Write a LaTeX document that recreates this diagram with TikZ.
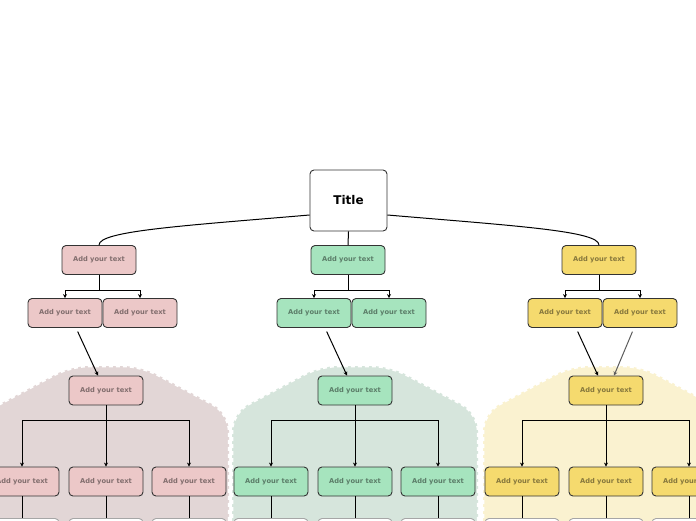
\documentclass[tikz,border=0pt]{standalone}
\usepackage{fontspec}
\setmainfont{DejaVu Sans}
\usetikzlibrary{arrows.meta}
\definecolor{rosecard}{RGB}{236,200,200}
\definecolor{rosebg}{RGB}{226,214,214}
\definecolor{mintcard}{RGB}{166,228,190}
\definecolor{mintbg}{RGB}{214,229,220}
\definecolor{sandcard}{RGB}{245,218,110}
\definecolor{sandbg}{RGB}{250,242,208}
\definecolor{edgegray}{RGB}{51,51,51}

\begin{document}
\begin{tikzpicture}[x=1pt, y=-1pt, >={Stealth[length=4pt,width=4pt]},
  card/.style={draw=edgegray, line width=0.9pt, rounded corners=4pt,
    minimum width=74pt, minimum height=29pt, inner sep=0pt,
    font=\fontsize{6.7}{8}\selectfont\bfseries, text opacity=0.45},
  ghost/.style={draw=gray!70, line width=0.9pt, rounded corners=4pt, fill=white,
    minimum width=74pt, minimum height=29pt},
  link/.style={line width=1pt}]
  \useasboundingbox (0,0) rectangle (696,520);
  \clip (0,0) rectangle (696,520);
  % ================================================================== backdrops
  \foreach \cx/\bg in {106/rosebg, 355/mintbg, 606/sandbg}
    \path[fill=\bg, draw=white, line width=2.5pt, dash pattern=on 4pt off 3pt, rounded corners=18pt]
      (\cx-123,560) -- (\cx-123,413) -- (\cx-35,366) -- (\cx+35,366) -- (\cx+123,413) -- (\cx+123,560);
  % ================================================================== title
  \node[draw=edgegray, line width=0.9pt, rounded corners=4pt, fill=white,
        minimum width=77pt, minimum height=61pt, font=\fontsize{12}{14}\selectfont\bfseries] (title) at (348.5,200.5) {Title};
  % ================================================================== three branches
  \foreach \cx/\fc/\g in {106/rosecard/a, 355/mintcard/b, 606/sandcard/c} {
    \node[card, fill=\fc] (\g1) at (\cx-7,260) {Add your text};
    \node[card, fill=\fc] (\g2l) at (\cx-41,313) {Add your text};
    \node[card, fill=\fc] (\g2r) at (\cx+34,313) {Add your text};
    \node[card, fill=\fc] (\g3) at (\cx,390.5) {Add your text};
    \node[card, fill=\fc] (\g4l) at (\cx-84,481.5) {Add your text};
    \node[card, fill=\fc] (\g4m) at (\cx,481.5) {Add your text};
    \node[card, fill=\fc] (\g4r) at (\cx+83,481.5) {Add your text};
    \node[ghost] (\g5l) at (\cx-84,533) {};
    \node[ghost] (\g5m) at (\cx,533) {};
    \node[ghost] (\g5r) at (\cx+83,533) {};
    \draw[link, ->] (\g1.south) -- ++(0,16) -| (\g2l.north);
    \draw[link, ->] (\g1.south) -- ++(0,16) -| (\g2r.north);
    \draw[link, ->, shorten <=4pt] ([xshift=11pt]\g2l.south) -- ([xshift=-8pt]\g3.north);
    \draw[link, ->] (\g3.south) -- ++(0,15) -| (\g4l.north);
    \draw[link, ->] (\g3.south) -- (\g4m.north);
    \draw[link, ->] (\g3.south) -- ++(0,15) -| (\g4r.north);
    \draw[link] (\g4l.south) -- (\g5l.north);
    \draw[link] (\g4m.south) -- (\g5m.north);
    \draw[link] (\g4r.south) -- (\g5r.north);
  }
  \draw[link, ->, edgegray!80, shorten <=4pt] ([xshift=-6pt]c2r.south) -- ([xshift=8pt]c3.north);
  % ================================================================== title links
  \draw[link] ([yshift=-14.5pt]title.west) .. controls (180,226) and (99,231) .. (a1.north);
  \draw[link] (title.south) -- (b1.north);
  \draw[link] ([yshift=-14.5pt]title.east) .. controls (517,226) and (599,231) .. (c1.north);
\end{tikzpicture}
\end{document}
